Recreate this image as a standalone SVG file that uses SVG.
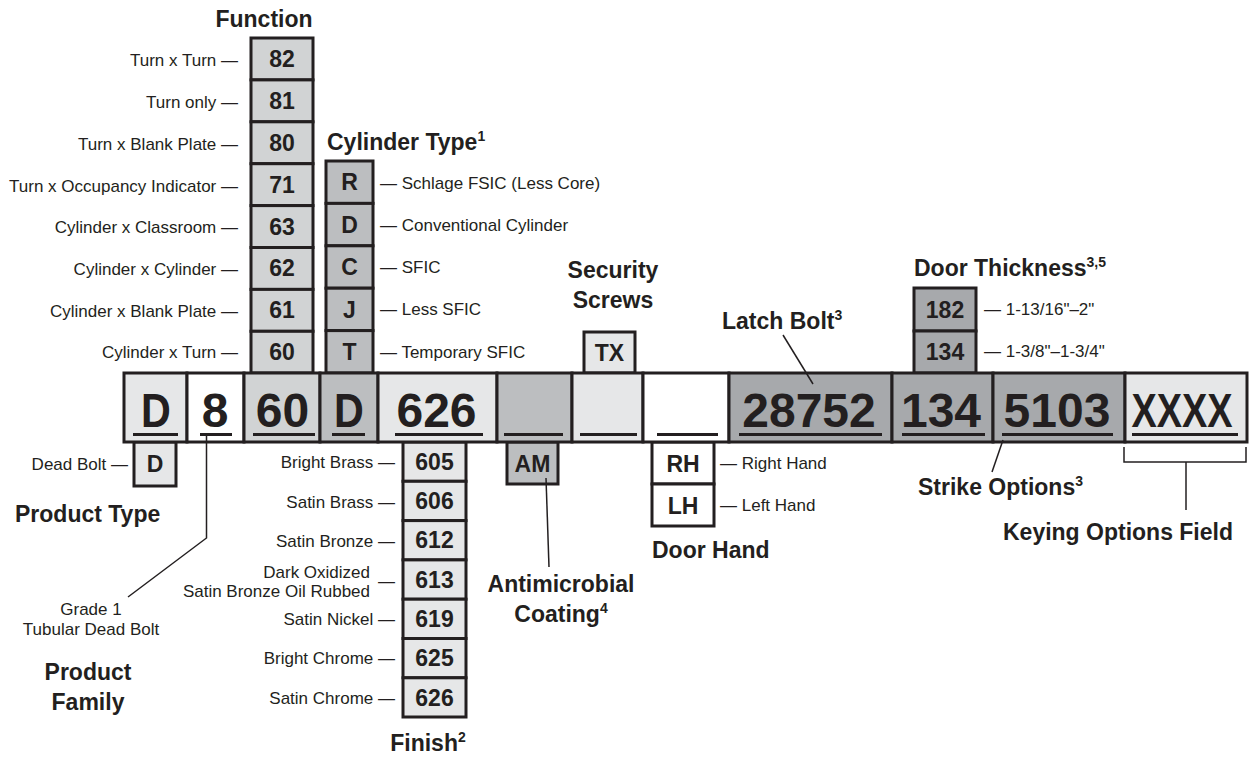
<svg xmlns="http://www.w3.org/2000/svg" width="1249" height="757" viewBox="0 0 1249 757">
<style>
text{font-family:"Liberation Sans",Arial,sans-serif;fill:#231f20}
.t{font-size:23px;font-weight:bold}
.s{font-size:17px}
.n{font-size:23px;font-weight:bold;text-anchor:middle}
.big{font-size:48px;font-weight:bold;text-anchor:middle}
.e{text-anchor:end}
.m{text-anchor:middle}
.b{stroke:#231f20;stroke-width:3}
.c1{fill:#e6e7e8}.c2{fill:#d1d3d4}.c3{fill:#bcbec0}.c4{fill:#a7a9ac}.cw{fill:#fff}
.u{stroke:#231f20;stroke-width:3}
.ln{stroke:#231f20;stroke-width:1.5;fill:none}
.sup{font-size:14px}
</style>
<rect width="1249" height="757" fill="#fff"/>

<g id="function">
<text class="t m" x="264" y="27">Function</text>
<rect class="b c2" x="251" y="38" width="62" height="41.9"/>
<rect class="b c2" x="251" y="79.9" width="62" height="41.9"/>
<rect class="b c2" x="251" y="121.8" width="62" height="41.9"/>
<rect class="b c2" x="251" y="163.7" width="62" height="41.9"/>
<rect class="b c2" x="251" y="205.6" width="62" height="41.9"/>
<rect class="b c2" x="251" y="247.5" width="62" height="41.9"/>
<rect class="b c2" x="251" y="289.4" width="62" height="41.9"/>
<rect class="b c2" x="251" y="331.3" width="62" height="41.7"/>
<text class="n" x="282" y="67">82</text>
<text class="n" x="282" y="109">81</text>
<text class="n" x="282" y="151">80</text>
<text class="n" x="282" y="193">71</text>
<text class="n" x="282" y="235">63</text>
<text class="n" x="282" y="276">62</text>
<text class="n" x="282" y="318">61</text>
<text class="n" x="282" y="360">60</text>
<text class="s e" x="238" y="66">Turn x Turn —</text>
<text class="s e" x="238" y="108">Turn only —</text>
<text class="s e" x="238" y="150">Turn x Blank Plate —</text>
<text class="s e" x="238" y="192">Turn x Occupancy Indicator —</text>
<text class="s e" x="238" y="233">Cylinder x Classroom —</text>
<text class="s e" x="238" y="275">Cylinder x Cylinder —</text>
<text class="s e" x="238" y="317">Cylinder x Blank Plate —</text>
<text class="s e" x="238" y="358">Cylinder x Turn —</text>
</g>

<g id="cylinder-type">
<text class="t" x="327" y="150">Cylinder Type<tspan class="sup" dy="-9">1</tspan></text>
<rect class="b c3" x="326" y="161" width="47" height="42.4"/>
<rect class="b c3" x="326" y="203.4" width="47" height="42.4"/>
<rect class="b c3" x="326" y="245.8" width="47" height="42.4"/>
<rect class="b c3" x="326" y="288.2" width="47" height="42.4"/>
<rect class="b c3" x="326" y="330.6" width="47" height="42.4"/>
<text class="n" x="349.5" y="190">R</text>
<text class="n" x="349.5" y="233">D</text>
<text class="n" x="349.5" y="275">C</text>
<text class="n" x="349.5" y="318">J</text>
<text class="n" x="349.5" y="360">T</text>
<text class="s" x="380" y="189">— Schlage FSIC (Less Core)</text>
<text class="s" x="380" y="231">— Conventional Cylinder</text>
<text class="s" x="380" y="273">— SFIC</text>
<text class="s" x="380" y="315">— Less SFIC</text>
<text class="s" x="380" y="358">— Temporary SFIC</text>
</g>

<g id="security-screws">
<text class="t m" x="613" y="278">Security</text>
<text class="t m" x="613" y="308">Screws</text>
<rect class="b c1" x="584" y="332" width="51" height="41"/>
<text class="n" x="609.5" y="361">TX</text>
</g>

<g id="latch-bolt">
<text class="t" x="722" y="329">Latch Bolt<tspan class="sup" dy="-9">3</tspan></text>
</g>

<g id="door-thickness">
<text class="t" x="914" y="276">Door Thickness<tspan class="sup" dy="-9">3,5</tspan></text>
<rect class="b c4" x="914" y="288" width="62" height="43"/>
<rect class="b c4" x="914" y="331" width="62" height="42"/>
<text class="n" x="945" y="318">182</text>
<text class="n" x="945" y="360">134</text>
<text class="s" x="984" y="315">— 1-13/16"–2"</text>
<text class="s" x="984" y="357">— 1-3/8"–1-3/4"</text>
</g>

<g id="product-type">
<rect class="b c1" x="134" y="442" width="42" height="44"/>
<text class="n" x="155" y="472">D</text>
<text class="s e" x="128" y="470">Dead Bolt —</text>
<text class="t" x="15" y="522">Product Type</text>
</g>

<g id="product-family">
<text class="s m" x="91" y="615">Grade 1</text>
<text class="s m" x="91" y="635">Tubular Dead Bolt</text>
<text class="t m" x="88" y="680">Product</text>
<text class="t m" x="88" y="710">Family</text>
</g>

<g id="finish">
<rect class="b c1" x="403" y="442" width="63" height="39.3"/>
<rect class="b c1" x="403" y="481.3" width="63" height="39.3"/>
<rect class="b c1" x="403" y="520.6" width="63" height="39.3"/>
<rect class="b c1" x="403" y="559.9" width="63" height="39.3"/>
<rect class="b c1" x="403" y="599.2" width="63" height="39.3"/>
<rect class="b c1" x="403" y="638.5" width="63" height="39.3"/>
<rect class="b c1" x="403" y="677.8" width="63" height="39.2"/>
<text class="n" x="434.5" y="470">605</text>
<text class="n" x="434.5" y="509">606</text>
<text class="n" x="434.5" y="548">612</text>
<text class="n" x="434.5" y="588">613</text>
<text class="n" x="434.5" y="627">619</text>
<text class="n" x="434.5" y="666">625</text>
<text class="n" x="434.5" y="706">626</text>
<text class="s e" x="395" y="468">Bright Brass —</text>
<text class="s e" x="395" y="508">Satin Brass —</text>
<text class="s e" x="395" y="547">Satin Bronze —</text>
<text class="s e" x="370" y="578">Dark Oxidized</text>
<text class="s e" x="370" y="597">Satin Bronze Oil Rubbed</text>
<text class="s e" x="395" y="587">—</text>
<text class="s e" x="395" y="625">Satin Nickel —</text>
<text class="s e" x="395" y="664">Bright Chrome —</text>
<text class="s e" x="395" y="704">Satin Chrome —</text>
<text class="t m" x="428" y="751">Finish<tspan class="sup" dy="-9">2</tspan></text>
</g>

<g id="antimicrobial">
<rect class="b c3" x="507" y="442" width="51" height="42"/>
<text class="n" x="532.5" y="472">AM</text>
<text class="t m" x="561" y="592">Antimicrobial</text>
<text class="t m" x="561" y="622">Coating<tspan class="sup" dy="-9">4</tspan></text>
</g>

<g id="door-hand">
<rect class="b cw" x="652" y="442" width="62" height="42"/>
<rect class="b cw" x="652" y="484" width="62" height="42"/>
<text class="n" x="683" y="472">RH</text>
<text class="n" x="683" y="514">LH</text>
<text class="s" x="720" y="469">— Right Hand</text>
<text class="s" x="720" y="511">— Left Hand</text>
<text class="t" x="652" y="558">Door Hand</text>
</g>

<g id="strike-options">
<text class="t" x="918" y="495">Strike Options<tspan class="sup" dy="-9">3</tspan></text>
</g>

<g id="keying-options">
<text class="t m" x="1118" y="540">Keying Options Field</text>
</g>

<g id="main-row">
<rect class="b c1" x="124" y="373" width="63" height="69"/>
<rect class="b cw" x="187" y="373" width="57" height="69"/>
<rect class="b c2" x="244" y="373" width="76" height="69"/>
<rect class="b c3" x="320" y="373" width="58" height="69"/>
<rect class="b c1" x="378" y="373" width="119" height="69"/>
<rect class="b c3" x="497" y="373" width="75" height="69"/>
<rect class="b c1" x="572" y="373" width="71" height="69"/>
<rect class="b cw" x="643" y="373" width="86" height="69"/>
<rect class="b c4" x="729" y="373" width="163" height="69"/>
<rect class="b c4" x="892" y="373" width="101" height="69"/>
<rect class="b c4" x="993" y="373" width="132" height="69"/>
<rect class="b c1" x="1125" y="373" width="122" height="69"/>
<text class="big" transform="translate(156 427) scale(0.86 1)">D</text>
<text class="big" x="215" y="427">8</text>
<text class="big" x="282.5" y="427">60</text>
<text class="big" transform="translate(349 427) scale(0.86 1)">D</text>
<text class="big" x="436.5" y="427">626</text>
<text class="big" x="809" y="427">28752</text>
<text class="big" x="941" y="427">134</text>
<text class="big" x="1057" y="427">5103</text>
<text class="big" transform="translate(1182 427) scale(0.79 1)">XXXX</text>
<g class="u">
<line x1="133" y1="434.5" x2="178" y2="434.5"/>
<line x1="200" y1="434.5" x2="232" y2="434.5"/>
<line x1="253" y1="434.5" x2="315" y2="434.5"/>
<line x1="332" y1="434.5" x2="365" y2="434.5"/>
<line x1="395" y1="434.5" x2="483" y2="434.5"/>
<line x1="504" y1="434.5" x2="563" y2="434.5"/>
<line x1="580" y1="434.5" x2="637" y2="434.5"/>
<line x1="657" y1="434.5" x2="718" y2="434.5"/>
<line x1="739" y1="434.5" x2="882" y2="434.5"/>
<line x1="902" y1="434.5" x2="985" y2="434.5"/>
<line x1="1002" y1="434.5" x2="1113" y2="434.5"/>
<line x1="1132" y1="434.5" x2="1238" y2="434.5"/>
</g>
</g>

<g id="connectors">
<polyline class="ln" points="206.5,436 206.5,538 128,597"/>
<line class="ln" x1="546" y1="478" x2="549" y2="567"/>
<line class="ln" x1="783" y1="335" x2="813" y2="384"/>
<line class="ln" x1="1003" y1="440" x2="992" y2="472"/>
<polyline class="ln" points="1124,447 1124,462 1246,462 1246,447"/>
<line class="ln" x1="1186" y1="462" x2="1186" y2="510"/>
</g>
</svg>
